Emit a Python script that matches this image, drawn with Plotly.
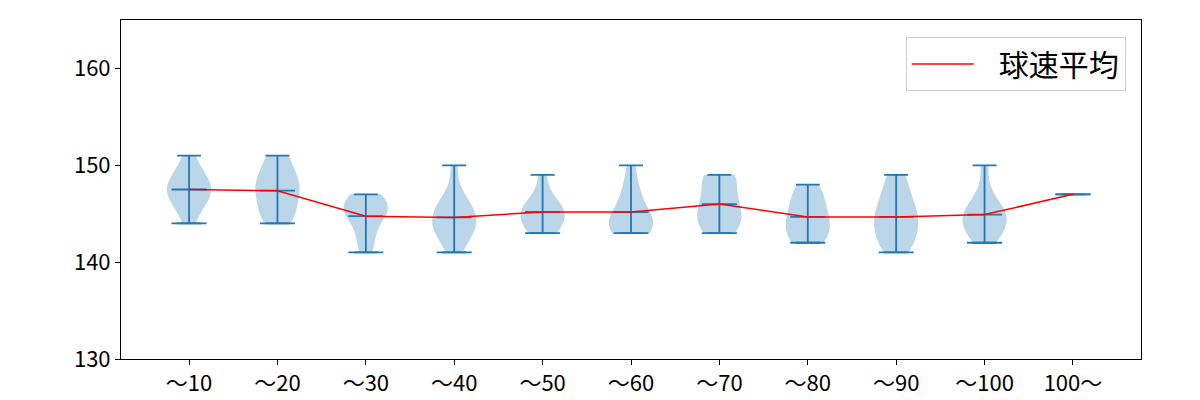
import numpy as np
import plotly.graph_objects as go

# 球速 samples per pitch-count bin (km/h)
labels = ["～10", "～20", "～30", "～40", "～50", "～60", "～70", "～80", "～90", "～100", "100～"]
speeds = [
    [144, 145, 146, 146, 147, 147, 147, 148, 148, 148, 149, 149, 150, 151],
    [144, 144, 145, 145, 146, 146, 147, 147, 148, 148, 148, 149, 149, 150, 151, 151],
    [141, 142, 143, 144, 145, 145, 145, 146, 146, 146, 147, 147],
    [141, 142, 143, 143, 144, 144, 144, 145, 145, 146, 146, 147, 150],
    [143, 143, 144, 144, 145, 145, 145, 146, 146, 147, 149],
    [143, 143, 143, 144, 144, 144, 145, 145, 146, 147, 148, 150],
    [143, 143, 144, 144, 145, 145, 146, 146, 147, 148, 149, 149, 149],
    [142, 142, 143, 143, 144, 144, 145, 145, 146, 147, 147, 148],
    [141, 142, 142, 143, 144, 144, 145, 145, 146, 147, 148, 149],
    [142, 143, 143, 144, 144, 145, 145, 145, 146, 147, 150],
    [147],
]
positions = list(range(1, len(labels) + 1))

blue = "#1f77b4"
fig = go.Figure()

for pos, vals in zip(positions, speeds):
    v = np.array(vals, dtype=float)
    if len(v) > 1:
        bw = v.std(ddof=1) * len(v) ** (-0.2)  # scott
        fig.add_trace(go.Violin(
            y=v, x0=pos, width=0.5, bandwidth=bw, spanmode="hard",
            fillcolor="rgba(31,119,180,0.3)", line=dict(width=0),
            points=False, hoverinfo="skip", showlegend=False,
            scalemode="width",
        ))

means = [float(np.mean(v)) for v in speeds]
mins = [min(v) for v in speeds]
maxs = [max(v) for v in speeds]

# min-max bars with caps
fig.add_trace(go.Scatter(
    x=positions, y=mins, mode="markers", marker=dict(size=0.1, color=blue),
    error_y=dict(type="data", symmetric=False,
                 array=[mx - mn for mx, mn in zip(maxs, mins)],
                 arrayminus=[0] * len(mins),
                 color=blue, thickness=1.8, width=12),
    showlegend=False, hoverinfo="skip",
))
fig.add_trace(go.Scatter(
    x=positions, y=mins, mode="markers",
    marker=dict(symbol="line-ew", size=25, line=dict(color=blue, width=1.8)),
    showlegend=False, hoverinfo="skip",
))
# mean ticks
fig.add_trace(go.Scatter(
    x=positions, y=means, mode="markers",
    marker=dict(symbol="line-ew", size=25, line=dict(color=blue, width=1.8)),
    showlegend=False, hoverinfo="skip",
))
# mean line
fig.add_trace(go.Scatter(
    x=positions, y=means, mode="lines", name="   球速平均",
    line=dict(color="red", width=1.5),
))

font = "Noto Sans CJK JP"
fig.update_layout(
    width=1200, height=400,
    margin=dict(l=113, r=67, t=11, b=43),
    plot_bgcolor="white", paper_bgcolor="white",
    violinmode="overlay",
    font=dict(family=font, size=20, color="black"),
    legend=dict(
        x=0.985, y=0.95, xanchor="right", yanchor="top",
        bordercolor="#d0d0d0", borderwidth=1, bgcolor="white",
        font=dict(size=30), itemwidth=62,
    ),
)
fig.update_xaxes(
    range=[0.23, 11.77], tickmode="array", tickvals=positions, ticktext=labels,
    showgrid=False, zeroline=False, showline=True, linecolor="black", linewidth=1,
    mirror=True, ticks="outside", ticklen=5, tickcolor="black",
    tickfont=dict(size=22),
)
fig.update_yaxes(
    range=[130, 165], tickvals=[130, 140, 150, 160],
    showgrid=False, zeroline=False, showline=True, linecolor="black", linewidth=1,
    mirror=True, ticks="outside", ticklen=5, tickcolor="black",
    tickfont=dict(size=22),
)

fig.write_html("out.html")
